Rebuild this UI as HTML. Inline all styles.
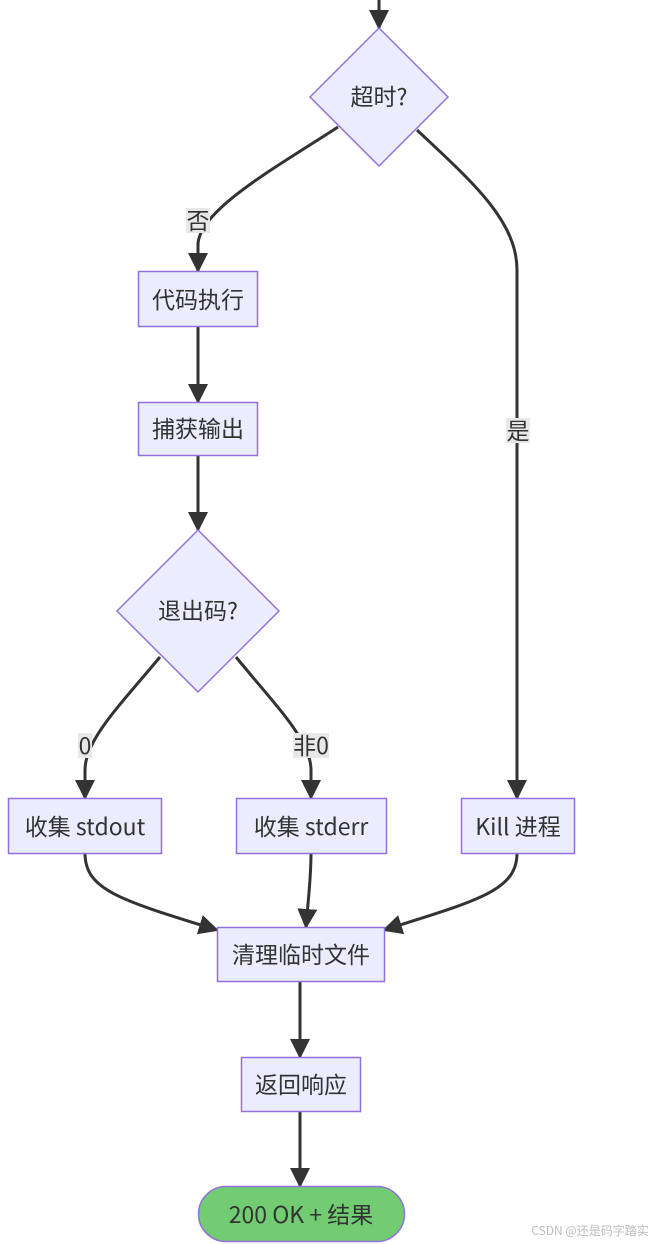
<!DOCTYPE html>
<html><head><meta charset="utf-8"><style>
html,body{margin:0;padding:0;background:#fff;width:659px;height:1244px;overflow:hidden}
text{font-family:"Noto Sans CJK SC","Liberation Sans",sans-serif;fill:#333;font-size:23px}
</style></head><body>
<svg width="659" height="1244" xmlns="http://www.w3.org/2000/svg">
<defs>
<marker id="b" viewBox="0 0 10 10" refX="9" refY="5" markerWidth="20" markerHeight="20" orient="auto" markerUnits="userSpaceOnUse"><path d="M0,0L10,5L0,10z" fill="#333"/></marker></defs>
<g fill="none" stroke="#333" stroke-width="3" marker-end="url(#b)">
<path d="M379,0V28"/>
<path d="M338,127C280,165 198,210 198,245V271"/>
<path d="M417,130C470,180 517,220 517,270V798"/>
<path d="M198,326V402"/>
<path d="M198,455Q198,490 198,530"/>
<path d="M160,657C120,705 85,740 85,770V798"/>
<path d="M236,657C275,705 311,740 311,770V798"/>
<path d="M85,853C85,890 120,900 217,930"/>
<path d="M311,853C311,880 308,900 306,927"/>
<path d="M517,853C517,890 480,900 384,930"/>
<path d="M300,981V1057"/>
<path d="M300,1111V1186"/>
</g>
<g fill="#ececff" stroke="#9370db" stroke-width="1.5">
<path d="M379,28L448,97L379,166L310,97z"/>
<path d="M198,530L279,611L198,692L117,611z"/>
<rect x="138.5" y="271.5" width="119" height="55"/>
<rect x="138.5" y="402.5" width="119" height="53"/>
<rect x="8.5" y="798.5" width="153" height="55"/>
<rect x="236.5" y="798.5" width="150" height="55"/>
<rect x="461.5" y="798.5" width="113" height="55"/>
<rect x="217.5" y="927.5" width="167" height="54"/>
<rect x="241.5" y="1057.5" width="119" height="54"/>
<rect x="198.5" y="1186.5" width="206" height="55" rx="27.5" fill="#72cc72"/>
</g>
<g fill="#e8e8e8">
<rect x="186" y="208" width="24" height="25"/>
<rect x="506" y="418" width="24" height="25"/>
<rect x="78" y="733" width="14" height="25"/>
<rect x="293" y="733" width="36" height="25"/>
</g>
<g text-anchor="middle">
<text x="379" y="105">超时?</text>
<text x="198" y="229">否</text>
<text x="518" y="439">是</text>
<text x="198" y="308">代码执行</text>
<text x="198" y="437">捕获输出</text>
<text x="198" y="619">退出码?</text>
<text x="85" y="754">0</text>
<text x="311" y="754">非0</text>
<text x="85" y="835">收集 stdout</text>
<text x="311" y="835">收集 stderr</text>
<text x="518" y="835">Kill 进程</text>
<text x="301" y="963">清理临时文件</text>
<text x="301" y="1093">返回响应</text>
<text x="301" y="1223">200 OK + 结果</text>
<text x="590" y="1235" style="font-size:12px;fill:#bbb">CSDN @还是码字踏实</text>
</g>
</svg>
</body></html>
